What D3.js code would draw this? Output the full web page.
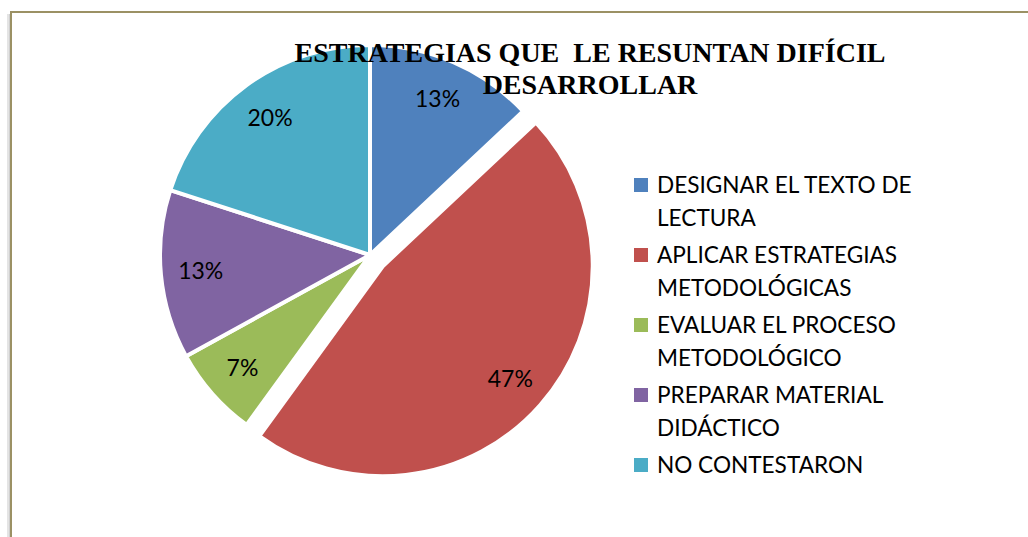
<!DOCTYPE html>
<html>
<head>
<meta charset="utf-8">
<script src="https://cdn.jsdelivr.net/npm/d3@7"></script>
<style>
  body { margin: 0; background: #fff; }
  svg { display: block; }
</style>
</head>
<body>
<div id="chart"></div>
<script>
// Chart data
const categories = [
    "DESIGNAR EL TEXTO DE LECTURA",
    "APLICAR ESTRATEGIAS METODOLÓGICAS",
    "EVALUAR EL PROCESO METODOLÓGICO",
    "PREPARAR MATERIAL DIDÁCTICO",
    "NO CONTESTARON"
];
const percents = [13, 47, 7, 13, 20];
const colors = ["#4F81BD", "#C0504D", "#9BBB59", "#8064A2", "#4BACC6"];
const exploded = [0, 17, 0, 0, 0];
const titleLines = ["ESTRATEGIAS QUE  LE RESUNTAN DIFÍCIL", "DESARROLLAR"];

const width = 1028, height = 537;
const cx = 370, cy = 255, radius = 210;

const svg = d3.select("#chart").append("svg")
    .attr("width", width)
    .attr("height", height);

// Frame: soft shadow on the left, then the olive border
svg.append("rect")
    .attr("x", 7).attr("y", 14)
    .attr("width", 4).attr("height", height)
    .attr("fill", "#e4e4e4");
svg.append("rect")
    .attr("x", 9).attr("y", 14)
    .attr("width", 2).attr("height", height)
    .attr("fill", "#cfcfcf");

svg.append("rect")
    .attr("x", 11).attr("y", 12)
    .attr("width", 1100).attr("height", 600)
    .attr("fill", "#fff")
    .attr("stroke", "#9b9164")
    .attr("stroke-width", 2);

// Pie
const pie = d3.pie().sort(null).value(d => d)(percents);
const arc = d3.arc().innerRadius(0).outerRadius(radius);
const labelArc = d3.arc().innerRadius(170).outerRadius(170);

const g = svg.append("g").attr("transform", `translate(${cx},${cy})`);

function offset(d, i) {
    const mid = (d.startAngle + d.endAngle) / 2;
    const e = exploded[i];
    return [Math.sin(mid) * e, -Math.cos(mid) * e];
}

const slices = g.selectAll("g.slice")
    .data(pie)
    .enter()
    .append("g")
    .attr("class", "slice")
    .attr("transform", (d, i) => `translate(${offset(d, i)})`);

slices.append("path")
    .attr("d", arc)
    .attr("fill", (d, i) => colors[i])
    .attr("stroke", "#fff")
    .attr("stroke-width", 4)
    .attr("stroke-linejoin", "round");

slices.append("text")
    .attr("transform", d => `translate(${labelArc.centroid(d)})`)
    .attr("text-anchor", "middle")
    .attr("dy", "0.36em")
    .style("font-family", "Lato, 'Open Sans', sans-serif")
    .style("font-size", "23px")
    .style("fill", "#000")
    .text(d => d.data + "%");

// Title (drawn over the pie)
svg.append("text")
    .attr("x", 590)
    .attr("text-anchor", "middle")
    .style("font-family", "'Liberation Serif', 'Times New Roman', serif")
    .style("font-weight", "bold")
    .style("font-size", "28px")
    .style("white-space", "pre")
    .attr("xml:space", "preserve")
    .selectAll("tspan")
    .data(titleLines)
    .enter()
    .append("tspan")
    .attr("x", 590)
    .attr("y", (d, i) => 62 + i * 32)
    .text(d => d);

// Legend
const legend = svg.append("g").attr("transform", "translate(634,178)");
const items = legend.selectAll("g")
    .data(categories)
    .enter()
    .append("g")
    .attr("transform", (d, i) => `translate(0,${i * 70})`);

items.append("rect")
    .attr("width", 14).attr("height", 14)
    .attr("fill", (d, i) => colors[i]);

const maxLine = 270;
items.each(function(d) {
    const t = d3.select(this).append("text")
        .attr("x", 23)
        .attr("y", 15)
        .style("font-family", "Lato, 'Open Sans', sans-serif")
        .style("font-size", "22.6px")
        .style("fill", "#000");
    // simple word wrap
    const words = d.split(" ");
    let line = [];
    let tspan = t.append("tspan").attr("x", 23).attr("dy", 0);
    words.forEach(w => {
        line.push(w);
        tspan.text(line.join(" "));
        if (tspan.node().getComputedTextLength() > maxLine && line.length > 1) {
            line.pop();
            tspan.text(line.join(" "));
            line = [w];
            tspan = t.append("tspan").attr("x", 23).attr("dy", 33).text(w);
        }
    });
});
</script>
</body>
</html>
